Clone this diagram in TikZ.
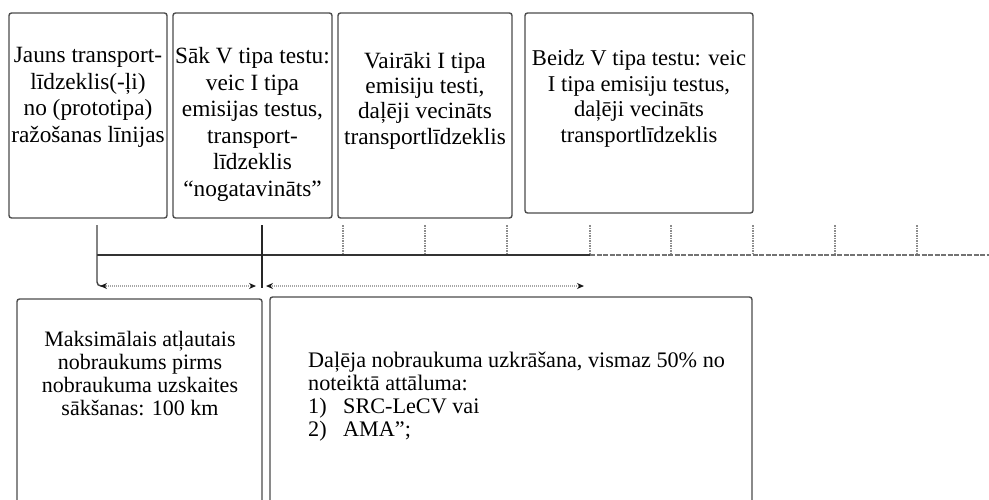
\documentclass[tikz,border=0pt]{standalone}
\usepackage{fontspec}
\setmainfont{Liberation Serif}
\usetikzlibrary{arrows.meta}
\begin{document}
\begin{tikzpicture}[x=1pt,y=-1pt,
  card/.style={draw=black!70, line width=1.4pt, rounded corners=2.5pt,
    anchor=north west, inner sep=0pt, outer sep=0pt},
  toptext/.style={anchor=base, align=center, inner sep=0pt,
    font=\fontsize{23.3}{26.5}\selectfont},
  lowtext/.style={anchor=base, align=center, inner sep=0pt,
    font=\fontsize{22}{23}\selectfont},
  listtext/.style={anchor=base west, align=left, inner sep=0pt,
    font=\fontsize{22.2}{23}\selectfont},
  axis/.style={draw=black!80, line width=1.7pt},
  axisfaded/.style={draw=black!55, line width=1.4pt, dash pattern=on 5pt off 1.5pt},
  tickmark/.style={draw=black!45, line width=1.2pt, dash pattern=on 1.5pt off 1pt},
  starttick/.style={draw=black!75, line width=1.4pt, rounded corners=4pt},
  midtick/.style={draw=black!85, line width=2.2pt},
  span/.style={draw=black!35, line width=1.4pt, dash pattern=on 1pt off 1pt,
    {Stealth[length=7pt,width=6pt,black!90]}-{Stealth[length=7pt,width=6pt,black!90]}}
]
\useasboundingbox (0,0) rectangle (989,499);
\clip (0,0) rectangle (989,499);

% upper row of stage cards
\node[card, minimum width=158, minimum height=205] (b1) at (9,13) {};
\node[card, minimum width=159, minimum height=205] (b2) at (173,13) {};
\node[card, minimum width=174, minimum height=205] (b3) at (338,13) {};
\node[card, minimum width=228, minimum height=200] (b4) at (525,13) {};

% texts are placed by the baseline of their last line
\node[toptext] (t1) at (88,142) {Jauns transport-\\līdzeklis(-ļi)\\no (prototipa)\\ražošanas līnijas};
\node[toptext] (t2) at (252.5,196) {Sāk V tipa testu:\\veic I tipa\\emisijas testus,\\transport-\\līdzeklis\\“nogatavināts”};
\node[toptext, font=\fontsize{23.3}{25.3}\selectfont] (t3) at (425,144) {Vairāki I tipa\\emisiju testi,\\daļēji vecināts\\transportlīdzeklis};
\node[toptext, font=\fontsize{22.6}{25.5}\selectfont] (t4) at (639,142) {Beidz V tipa testu: veic\\I tipa emisiju testus,\\daļēji vecināts\\transportlīdzeklis};

% lower row of cards, running past the lower edge
\node[card, minimum width=245, minimum height=260] (b5) at (17,299) {};
\node[card, minimum width=482, minimum height=262] (b6) at (270,297) {};

\node[lowtext] (t5) at (140,415) {Maksimālais atļautais\\nobraukums pirms\\nobraukuma uzskaites\\sākšanas: 100 km};
\node[listtext] (t6) at (308,390) {Daļēja nobraukuma uzkrāšana, vismaz 50\% no\\noteiktā attāluma:};
\node[listtext] (n1) at (308,413) {1)};
\node[listtext] (i1) at (343,413) {SRC-LeCV vai};
\node[listtext] (n2) at (308,436) {2)};
\node[listtext] (i2) at (343,436) {AMA”;};

% time axis
\coordinate (ax0) at (97,255);
\coordinate (ax1) at (590,255);
\coordinate (ax2) at (989,255);
\draw[axis] (ax0) -- (ax1);
\draw[axisfaded] (ax1) -- (ax2);

\foreach \x [count=\i] in {343,425,507,590,671,753,835,917} {
  \coordinate (tka\i) at (\x,225);
  \coordinate (tkb\i) at (\x,255);
  \draw[tickmark] (tka\i) -- (tkb\i);
}

% start and first-test markers
\coordinate (s0) at (97,225);
\coordinate (s1) at (97,286);
\coordinate (s2) at (106,286);
\draw[starttick] (s0) -- (s1) -- (s2);
\coordinate (m0) at (262,225);
\coordinate (m1) at (262,288);
\draw[midtick] (m0) -- (m1);

% mileage spans
\coordinate (p0) at (100,286);
\coordinate (p1) at (256,286);
\coordinate (p2) at (266,286);
\coordinate (p3) at (584,286);
\draw[span] (p0) -- (p1);
\draw[span] (p2) -- (p3);
\end{tikzpicture}
\end{document}
